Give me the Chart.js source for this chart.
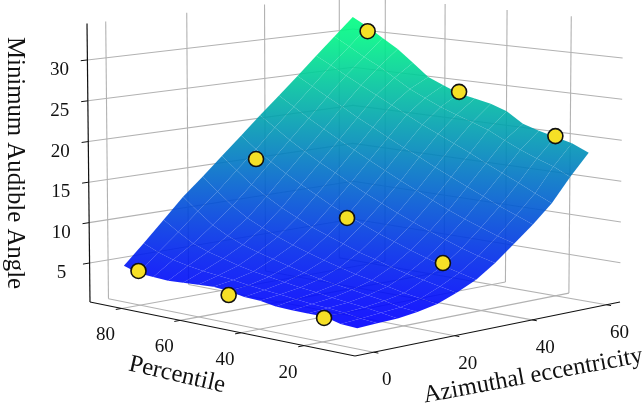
<!DOCTYPE html>
<html>
<head>
<meta charset="utf-8">
<style>
  html, body { margin: 0; padding: 0; background: #fff; }
  canvas { display: block; }
</style>
<script src="https://cdn.jsdelivr.net/npm/chart.js@4/dist/chart.umd.js"></script>
</head>
<body>
<canvas id="chart" width="644" height="413"></canvas>
<script>
// axis ticks
const eccTicks = [0, 20, 40, 60];
const pctTicks = [20, 40, 60, 80];
const angleTicks = [5, 10, 15, 20, 25, 30];

// axis box limits
const eccBox = [-4.5, 63.75];
const pctBox = [4.4, 91.1];
const angleBox = [0.15, 34.45];

// surface samples, one row per eccentricity, one column per percentile
const surfaceEcc = [0.8, 5.7, 10.7, 15.6, 20.6, 25.5, 30.5, 35.4, 40.4, 45.3, 50.3, 55.2, 60.2];
const surfacePct = [10.4, 15.5, 20.6, 25.7, 30.7, 35.8, 40.9, 46, 51.1, 56.2, 61.2, 66.3, 71.4, 76.5, 81.6, 86.7];
const surfaceAngle = [
  [2.4, 2.5, 3.0, 3.0, 3.0, 3.1, 3.4, 3.5, 3.85, 4.0, 3.9, 3.8, 3.7, 3.8, 3.9, 4.5],
  [2.5, 2.7, 3.0, 3.2, 3.3, 3.5, 3.7, 3.9, 4.1, 4.4, 4.6, 4.8, 5.1, 5.5, 6.1, 6.9],
  [2.6, 2.9, 3.2, 3.4, 3.6, 3.9, 4.1, 4.4, 4.7, 5.0, 5.4, 5.9, 6.4, 7.1, 8.2, 9.4],
  [2.9, 3.1, 3.5, 3.8, 4.1, 4.4, 4.7, 5.1, 5.6, 6.1, 6.6, 7.2, 8.0, 9.0, 10.4, 11.9],
  [3.4, 3.7, 4.0, 4.4, 4.8, 5.2, 5.7, 6.2, 6.8, 7.4, 8.1, 8.9, 9.8, 11.0, 12.5, 14.1],
  [4.3, 4.7, 5.1, 5.5, 6.0, 6.6, 7.1, 7.8, 8.5, 9.2, 10.1, 11.0, 12.1, 13.3, 14.8, 16.3],
  [5.4, 5.9, 6.4, 7.0, 7.6, 8.3, 9.0, 9.8, 10.6, 11.5, 12.5, 13.5, 14.6, 15.8, 17.1, 18.55],
  [7.0, 7.5, 8.1, 8.8, 9.5, 10.3, 11.1, 12.0, 12.9, 13.9, 14.9, 15.9, 17.0, 18.2, 19.5, 20.8],
  [8.9, 9.5, 10.2, 10.9, 11.7, 12.6, 13.5, 14.4, 15.4, 16.4, 17.4, 18.4, 19.5, 20.6, 21.8, 23.0],
  [10.8, 11.6, 12.4, 13.3, 14.2, 15.1, 16.0, 17.0, 17.9, 18.9, 19.9, 20.9, 22.0, 23.0, 24.1, 25.2],
  [13.0, 13.9, 14.9, 15.8, 16.7, 17.7, 18.6, 19.5, 20.4, 21.4, 22.4, 23.4, 24.4, 25.4, 26.5, 27.5],
  [15.8, 16.8, 17.5, 18.3, 19.2, 20.2, 20.9, 21.6, 22.3, 23.2, 24.1, 25.3, 26.5, 27.5, 28.6, 29.7],
  [18.4, 19.3, 19.8, 20.3, 20.9, 22.2, 22.9, 23.3, 23.7, 24.5, 25.3, 26.9, 28.45, 29.65, 30.87, 31.95],
];

// measured points
const pointEcc = [0.8, 0.8, 0.8, 30.5, 30.5, 30.5, 60.2, 60.2, 60.2];
const pointPct = [81.6, 51.1, 20.6, 81.6, 51.1, 20.6, 81.6, 51.1, 20.6];
const pointAngle = [4.2, 3.37, 2.84, 15.85, 10.26, 6.72, 30.3, 23.9, 19.9];

const angleMin = 2.4;
const angleMax = 31;

// perspective camera, box coords u,v,w in 0..1
function project(e, p, a) {
  const u = (e - eccBox[0]) / (eccBox[1] - eccBox[0]);
  const v = (p - pctBox[0]) / (pctBox[1] - pctBox[0]);
  const w = (a - angleBox[0]) / (angleBox[1] - angleBox[0]);
  const d = 1 + 0.0763 * u + 0.085 * v - 0.0121 * w;
  return {
    x: (355 + 312.3 * u - 257.35 * v - 4.3 * w) / d,
    y: (356 - 30.96 * u - 28.33 * v - 302.5 * w) / d,
  };
}

// winter colormap
function winter(a) {
  const t = Math.max(0, Math.min(1, (a - angleMin) / (angleMax - angleMin)));
  return `rgba(0,${Math.round(255 * t)},${Math.round(255 - 127 * t)},0.9)`;
}

// smooth fill for one quad, follows the plane through three corners
function quadFill(chart, pts, vals) {
  const { x, y } = chart.scales;
  const px = pts.map((q) => [x.getPixelForValue(q.x), y.getPixelForValue(q.y)]);
  const ax = px[1][0] - px[0][0], ay = px[1][1] - px[0][1];
  const bx = px[3][0] - px[0][0], by = px[3][1] - px[0][1];
  const da = vals[1] - vals[0], db = vals[3] - vals[0];
  const det = ax * by - ay * bx;
  const lo = Math.min(...vals), hi = Math.max(...vals);
  if (Math.abs(det) < 1e-6 || hi - lo < 1e-6) return winter(lo);
  const gx = (da * by - db * ay) / det;
  const gy = (db * ax - da * bx) / det;
  const g2 = gx * gx + gy * gy;
  if (g2 < 1e-9) return winter(lo);
  const s = (lo - vals[0]) / g2, t = (hi - vals[0]) / g2;
  const grad = chart.ctx.createLinearGradient(
    px[0][0] + gx * s, px[0][1] + gy * s, px[0][0] + gx * t, px[0][1] + gy * t);
  grad.addColorStop(0, winter(lo));
  grad.addColorStop(1, winter(hi));
  return grad;
}

function lineSet(points, color, width) {
  return {
    data: points.map((q) => project(q[0], q[1], q[2])),
    borderColor: color,
    borderWidth: width,
    pointRadius: 0,
    fill: false,
    tension: 0,
    clip: false,
  };
}

const datasets = [];
const quads = [];

// first dataset is painted last
datasets.push({
  data: pointEcc.map((e, i) => project(e, pointPct[i], pointAngle[i])),
  showLine: false,
  pointRadius: 7.5,
  pointBorderWidth: 1.6,
  pointBackgroundColor: '#f6e026',
  pointBorderColor: '#111111',
  clip: false,
});

// spines
datasets.push(lineSet([[eccBox[0], pctBox[1], angleBox[0]], [eccBox[0], pctBox[1], angleBox[1]]], '#111111', 1.2));
datasets.push(lineSet([[eccBox[0], pctBox[1], angleBox[0]], [eccBox[0], pctBox[0], angleBox[0]]], '#111111', 1.2));
datasets.push(lineSet([[eccBox[0], pctBox[0], angleBox[0]], [eccBox[1], pctBox[0], angleBox[0]]], '#111111', 1.2));

// tick marks
angleTicks.forEach((a) => datasets.push(lineSet([[eccBox[0], pctBox[1], a], [eccBox[0] - 1.6, pctBox[1], a]], '#111111', 1)));
pctTicks.forEach((p) => datasets.push(lineSet([[eccBox[0], p, angleBox[0]], [eccBox[0] - 1.4, p, angleBox[0]]], '#111111', 1)));
eccTicks.forEach((e) => datasets.push(lineSet([[e, pctBox[0], angleBox[0]], [e, pctBox[0] - 1.4, angleBox[0]]], '#111111', 1)));

// surface quads, nearest first
for (let i = 0; i < surfaceEcc.length - 1; i++) {
  for (let j = 0; j < surfacePct.length - 1; j++) {
    const corners = [[i, j], [i + 1, j], [i + 1, j + 1], [i, j + 1]];
    const pts = corners.map((c) => project(surfaceEcc[c[0]], surfacePct[c[1]], surfaceAngle[c[0]][c[1]]));
    const vals = corners.map((c) => surfaceAngle[c[0]][c[1]]);
    const ds = {
      data: [...pts, pts[0]],
      borderColor: 'rgba(0,0,0,0)',
      borderWidth: 0,
      pointRadius: 0,
      tension: 0,
      fill: 'shape',
      clip: false,
      backgroundColor: winter(vals[0]),
    };
    quads.push({ ds, pts, vals });
    datasets.push(ds);
  }
}

// walls and floor
const gridColor = '#b2b2b2';
angleTicks.forEach((a) => {
  datasets.push(lineSet([[eccBox[0], pctBox[1], a], [eccBox[1], pctBox[1], a]], gridColor, 1.1));
  datasets.push(lineSet([[eccBox[1], pctBox[1], a], [eccBox[1], pctBox[0], a]], gridColor, 1.1));
});
eccTicks.forEach((e) => {
  datasets.push(lineSet([[e, pctBox[1], angleBox[0]], [e, pctBox[1], angleBox[1]]], gridColor, 1.1));
  datasets.push(lineSet([[e, pctBox[0], angleBox[0]], [e, pctBox[1], angleBox[0]]], gridColor, 1.1));
});
pctTicks.forEach((p) => {
  datasets.push(lineSet([[eccBox[1], p, angleBox[0]], [eccBox[1], p, angleBox[1]]], gridColor, 1.1));
  datasets.push(lineSet([[eccBox[0], p, angleBox[0]], [eccBox[1], p, angleBox[0]]], gridColor, 1.1));
});

const axisText = {
  id: 'axisText',
  afterDraw(chart) {
    const { ctx, scales } = chart;
    const px = (q) => [scales.x.getPixelForValue(q.x), scales.y.getPixelForValue(q.y)];
    const text = (str, x, y, size, rot) => {
      ctx.save();
      ctx.translate(x, y);
      ctx.rotate((rot * Math.PI) / 180);
      ctx.font = `${size}px "Liberation Serif"`;
      ctx.fillStyle = '#111111';
      ctx.textAlign = 'center';
      ctx.textBaseline = 'middle';
      ctx.fillText(str, 0, 0);
      ctx.restore();
    };
    angleTicks.forEach((a) => {
      const [x, y] = px(project(eccBox[0], pctBox[1], a));
      text(String(a), x - 28, y + 10, 19, 0);
    });
    pctTicks.forEach((p) => {
      const [x, y] = px(project(eccBox[0], p, angleBox[0]));
      text(String(p), x - 16, y + 27, 19, 0);
    });
    eccTicks.forEach((e) => {
      const [x, y] = px(project(e, pctBox[0], angleBox[0]));
      text(String(e), x + 13, y + 28, 19, 0);
    });
    text('Minimum Audible Angle', 15, 163, 24.8, 90);
    text('Percentile', 177, 375, 24.6, 13);
    text('Azimuthal eccentricity', 533, 376, 24.4, -10.5);
  },
};

const chart = new Chart(document.getElementById('chart'), {
  type: 'line',
  data: { datasets },
  options: {
    responsive: false,
    animation: false,
    layout: { padding: 0, autoPadding: false },
    plugins: { legend: { display: false }, tooltip: { enabled: false } },
    scales: {
      x: { type: 'linear', min: 0, max: 644, display: false },
      y: { type: 'linear', min: 0, max: 413, reverse: true, display: false },
    },
  },
  plugins: [axisText],
});

// gradients need the finished scales
quads.forEach((q) => { q.ds.backgroundColor = quadFill(chart, q.pts, q.vals); });
chart.update();
</script>
</body>
</html>
